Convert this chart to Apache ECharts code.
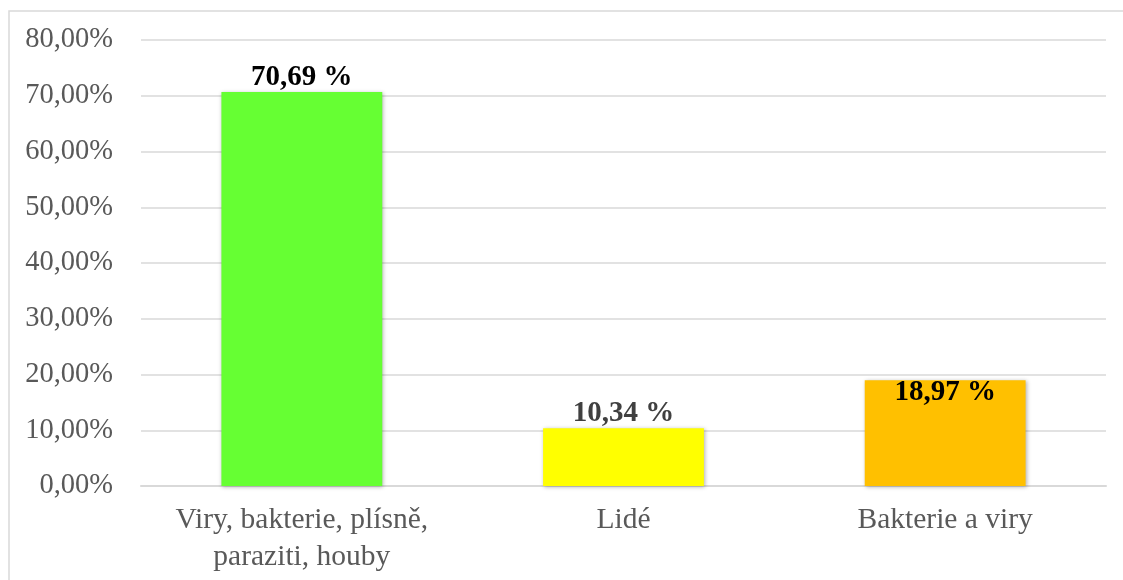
<!DOCTYPE html>
<html>
<head>
<meta charset="utf-8">
<script src="https://cdn.jsdelivr.net/npm/echarts@6/dist/echarts.min.js"></script>
<style>
html,body{margin:0;padding:0;background:#fff;}
#chart{width:1123px;height:580px;}
</style>
</head>
<body>
<div id="chart"></div>
<script>
var categories = ['Viry, bakterie, plísně,\nparaziti, houby', 'Lidé', 'Bakterie a viry'];
var values = [70.69, 10.34, 18.97];
var yTicks = [0, 10, 20, 30, 40, 50, 60, 70, 80];

var barColors = ['#66FF33', '#FFFF00', '#FFC000'];
var labelColors = ['#000000', '#404040', '#000000'];
var labelPositions = ['top', 'top', 'insideTop'];

var FONT = '"Liberation Serif", "Times New Roman", serif';

var chart = echarts.init(document.getElementById('chart'), null, {renderer: 'canvas'});

function fmt(v) { return v.toFixed(2).replace('.', ','); }

var seriesData = values.map(function (v, i) {
  return {
    value: v,
    itemStyle: { color: barColors[i] },
    label: {
      position: labelPositions[i],
      distance: labelPositions[i] === 'insideTop' ? -2 : 0,
      color: labelColors[i]
    }
  };
});

chart.setOption({
  animation: false,
  backgroundColor: '#ffffff',
  graphic: [{
    type: 'rect',
    shape: { x: 9, y: 11, width: 1130, height: 590 },
    style: { fill: 'none', stroke: '#d9d9d9', lineWidth: 1.5 },
    silent: true,
    z: -10
  }],
  grid: { left: 141, right: 17, top: 40, bottom: 94, containLabel: false },
  xAxis: {
    type: 'category',
    data: categories,
    axisTick: { show: false },
    axisLine: { show: true, lineStyle: { color: '#d9d9d9', width: 2 } },
    axisLabel: {
      fontFamily: FONT, fontSize: 29.5, color: '#595959',
      lineHeight: 37, margin: 16, interval: 0
    }
  },
  yAxis: {
    type: 'value',
    min: yTicks[0],
    max: yTicks[yTicks.length - 1],
    interval: 10,
    axisLine: { show: false },
    axisTick: { show: false },
    splitLine: { lineStyle: { color: '#d9d9d9', width: 1.5 } },
    axisLabel: {
      fontFamily: FONT, fontSize: 28.5, color: '#595959', margin: 28,
      formatter: function (v) { return fmt(v) + '%'; }
    }
  },
  series: [{
    type: 'bar',
    data: seriesData,
    barWidth: '50%',
    itemStyle: { shadowBlur: 4, shadowColor: 'rgba(0,0,0,0.3)', shadowOffsetX: 1, shadowOffsetY: 1 },
    label: {
      show: true,
      fontFamily: FONT, fontSize: 29, fontWeight: 'bold',
      formatter: function (p) { return fmt(p.value) + ' %'; }
    }
  }]
});
</script>
</body>
</html>
